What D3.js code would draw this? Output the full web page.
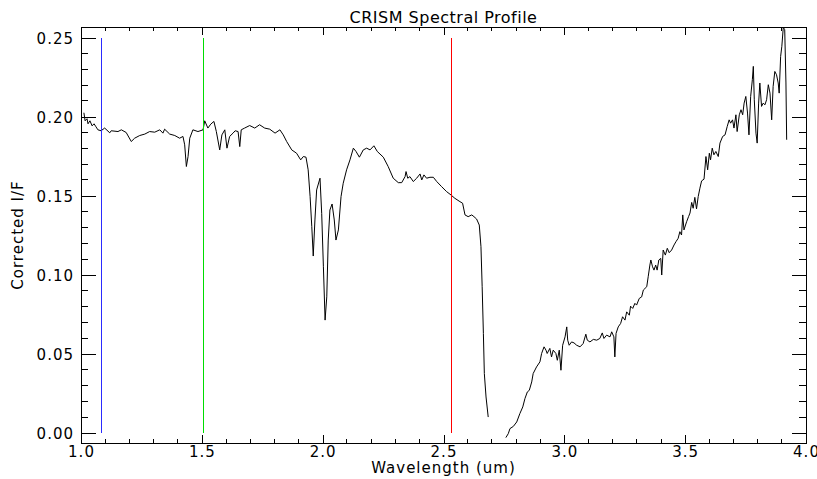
<!DOCTYPE html>
<html>
<head>
<meta charset="utf-8">
<script src="https://cdn.jsdelivr.net/npm/d3@7"></script>
<style>
  html, body { margin: 0; padding: 0; background: #fff; }
  svg text { font-family: "DejaVu Sans", sans-serif; fill: #000; }
</style>
</head>
<body>
<div id="chart"></div>
<script>
// spectrum samples (null = no data)
const wavelength = [
  1.012,1.017,1.025,1.029,1.037,1.046,1.054,1.062,1.070,1.083,
  1.098,1.119,1.125,1.153,1.167,1.187,1.208,1.222,1.243,1.264,
  1.284,1.305,1.326,1.339,1.346,1.367,1.388,1.408,1.422,1.429,
  1.436,1.443,1.450,1.463,1.484,1.505,1.512,1.525,1.537,1.550,
  1.560,1.574,1.583,1.595,1.604,1.615,1.629,1.638,1.650,1.657,
  1.663,1.677,1.698,1.719,1.739,1.760,1.781,1.803,1.823,1.837,
  1.851,1.872,1.892,1.909,1.920,1.931,1.940,1.948,1.955,1.961,
  1.968,1.975,1.989,1.996,2.003,2.010,2.017,2.023,2.030,2.039,
  2.048,2.055,2.065,2.076,2.085,2.099,2.113,2.127,2.138,2.152,
  2.168,2.182,2.196,2.212,2.226,2.251,2.271,2.292,2.313,2.327,
  2.341,2.345,2.352,2.361,2.375,2.389,2.403,2.410,2.419,2.430,
  2.444,2.458,2.472,2.492,2.513,2.531,2.547,2.568,2.579,2.589,
  2.602,2.617,2.626,2.637,2.648,2.655,2.660,2.665,2.669,2.676,
  2.685,
  2.720,
  2.758,2.768,2.775,2.789,2.803,2.816,2.828,2.837,2.847,2.855,
  2.865,2.871,2.885,2.899,2.906,2.916,2.924,2.929,2.940,2.947,
  2.954,2.965,2.971,2.979,2.986,2.993,3.003,3.010,3.014,3.020,
  3.030,3.040,3.051,3.065,3.078,3.089,3.095,3.106,3.120,3.134,
  3.147,3.157,3.164,3.175,3.189,3.196,3.205,3.209,3.214,3.223,
  3.233,3.241,3.251,3.258,3.269,3.274,3.283,3.292,3.299,3.310,
  3.320,3.327,3.341,3.347,3.354,3.358,3.365,3.371,3.378,3.384,
  3.391,3.399,3.403,3.409,3.418,3.426,3.434,3.444,3.454,3.462,
  3.471,3.478,3.485,3.490,3.495,3.506,3.514,3.520,3.527,3.533,
  3.540,3.547,3.554,3.561,3.568,3.578,3.586,3.593,3.600,3.605,
  3.612,3.619,3.627,3.637,3.644,3.655,3.665,3.674,3.682,3.688,
  3.696,3.702,3.710,3.715,3.724,3.731,3.738,3.744,3.751,3.758,
  3.764,3.771,3.778,3.782,3.786,3.793,3.798,3.804,3.809,3.816,
  3.823,3.830,3.837,3.844,3.851,3.858,3.864,3.871,3.878,3.885,
  3.889,3.895,3.900,3.906,3.912,3.917,3.920
]
const correctedIF = [
  0.2025,0.1974,0.1987,0.1955,0.1974,0.1942,0.1955,0.1936,0.1917,0.1911,
  0.1928,0.1898,0.1911,0.1906,0.1917,0.1900,0.1843,0.1864,0.1881,0.1890,
  0.1906,0.1902,0.1917,0.1896,0.1921,0.1890,0.1881,0.1864,0.1875,0.1822,
  0.1685,0.1748,0.1864,0.1917,0.1906,0.1917,0.1974,0.1928,0.1953,0.1970,
  0.1906,0.1790,0.1885,0.1917,0.1801,0.1875,0.1896,0.1911,0.1906,0.1811,
  0.1917,0.1928,0.1944,0.1928,0.1949,0.1928,0.1921,0.1896,0.1917,0.1885,
  0.1843,0.1790,0.1769,0.1727,0.1748,0.1744,0.1664,0.1495,0.1305,0.1119,
  0.1347,0.1537,0.1611,0.1389,0.1051,0.0714,0.0861,0.1220,0.1410,0.1448,
  0.1347,0.1220,0.1284,0.1495,0.1579,0.1664,0.1727,0.1801,0.1780,0.1744,
  0.1790,0.1801,0.1790,0.1816,0.1780,0.1744,0.1685,0.1611,0.1583,0.1583,
  0.1621,0.1653,0.1611,0.1621,0.1590,0.1611,0.1638,0.1600,0.1632,0.1611,
  0.1617,0.1617,0.1590,0.1558,0.1526,0.1505,0.1484,0.1463,0.1453,0.1379,
  0.1368,0.1379,0.1368,0.1353,0.1315,0.1178,0.0925,0.0630,0.0376,0.0228,
  0.0101,
  null,
  -0.0029,-0.0004,0.0028,0.0042,0.0070,0.0123,0.0165,0.0218,0.0260,0.0270,
  0.0323,0.0376,0.0418,0.0450,0.0503,0.0545,0.0524,0.0503,0.0535,0.0481,
  0.0524,0.0503,0.0460,0.0524,0.0397,0.0555,0.0608,0.0671,0.0587,0.0555,
  0.0576,0.0570,0.0555,0.0545,0.0566,0.0625,0.0587,0.0576,0.0592,0.0587,
  0.0598,0.0633,0.0598,0.0619,0.0608,0.0640,0.0608,0.0481,0.0630,0.0671,
  0.0693,0.0735,0.0714,0.0766,0.0745,0.0802,0.0788,0.0820,0.0809,0.0851,
  0.0861,0.0904,0.0925,0.0988,0.1062,0.1094,0.1051,0.1030,0.1062,0.1030,
  0.1094,0.1104,0.0999,0.1157,0.1125,0.1168,0.1140,0.1157,0.1189,0.1210,
  0.1231,0.1273,0.1252,0.1379,0.1284,0.1336,0.1368,0.1391,0.1458,0.1421,
  0.1490,0.1417,0.1495,0.1548,0.1594,0.1605,0.1748,0.1664,0.1769,0.1727,
  0.1801,0.1759,0.1780,0.1748,0.1833,0.1875,0.1885,0.1938,0.1980,0.1959,
  0.1980,0.1928,0.2012,0.1906,0.2012,0.2044,0.2012,0.2086,0.2128,0.2023,
  0.1885,0.2128,0.2234,0.2318,0.2107,0.1896,0.1833,0.2086,0.2213,0.2065,
  0.2086,0.2075,0.2107,0.2202,0.2149,0.1980,0.2191,0.2286,0.2265,0.2213,
  0.2149,0.2381,0.2445,0.2565,0.2550,0.2213,0.1854
]

// band markers (blue / green / red)
const markerWave = [1.083, 1.505, 2.533]
const markerColor = ['#2b2bff', '#00dd00', '#ff0000']
const markerRange = [0.0, 0.25]

const xTicks = [1.0, 1.5, 2.0, 2.5, 3.0, 3.5, 4.0]
const yTicks = [0.00, 0.05, 0.10, 0.15, 0.20, 0.25]
const xDomain = [1.0, 4.0]
const yDomain = [-0.0063, 0.2567]

const width = 817
const height = 479
const margin = { top: 27, right: 11, bottom: 36, left: 81 }
const x0 = margin.left, x1 = width - margin.right
const y0 = height - margin.bottom, y1 = margin.top

const x = d3.scaleLinear().domain(xDomain).range([x0, x1])
const y = d3.scaleLinear().domain(yDomain).range([y0, y1])

const xMinor = d3.range(10, 41).map(i => i / 10).filter(v => !xTicks.some(t => Math.abs(t - v) < 1e-9))
const yMinor = d3.range(0, 26).map(i => i / 100).filter(v => !yTicks.some(t => Math.abs(t - v) < 1e-9))

// IDL-ish tick lengths
const xMajLen = 8.3, xMinLen = 4.2
const yMajLen = 14.5, yMinLen = 7.3

let svg = d3.select('#chart').append('svg')
    .attr('width', width)
    .attr('height', height)
    .style('display', 'block')

svg.append('rect').attr('width', width).attr('height', height).attr('fill', '#fff')

svg.append('defs').append('clipPath').attr('id', 'plotclip')
    .append('rect')
    .attr('x', x0).attr('y', y1)
    .attr('width', x1 - x0).attr('height', y0 - y1)

// spectrum
const pts = wavelength.map((w, i) => ({ w: w, v: correctedIF[i] }))
const spectrumLine = d3.line()
    .defined(d => d.v !== null)
    .x(d => x(d.w))
    .y(d => y(d.v))

svg.append('path')
    .datum(pts)
    .attr('clip-path', 'url(#plotclip)')
    .attr('d', spectrumLine)
    .attr('fill', 'none')
    .attr('stroke', '#000')
    .attr('stroke-width', 1)
    .attr('stroke-linejoin', 'miter')

// vertical band markers, drawn as thin filled rects so the colour stays solid
svg.append('g')
    .selectAll('rect')
    .data(markerWave)
    .enter()
    .append('rect')
    .attr('x', d => Math.round(x(d)))
    .attr('width', 1)
    .attr('y', y(markerRange[1]))
    .attr('height', y(markerRange[0]) - y(markerRange[1]))
    .style('fill', (d, i) => markerColor[i])
    .attr('shape-rendering', 'crispEdges')

// axes: major ticks via d3.axis, minor ticks added on top
function styleAxis(g) {
    g.select('.domain').attr('stroke', '#000').attr('shape-rendering', 'crispEdges')
    g.selectAll('.tick line').attr('stroke', '#000').attr('shape-rendering', 'crispEdges')
    g.selectAll('.tick text').style('font-size', '15px').style('letter-spacing', '1px')
}

let gBottom = svg.append('g')
    .attr('transform', `translate(0,${y0})`)
    .call(d3.axisBottom(x).tickValues(xTicks).tickSizeInner(-xMajLen).tickSizeOuter(0)
        .tickPadding(4).tickFormat(d3.format('.1f')))
gBottom.call(styleAxis)
gBottom.selectAll('.tick text').attr('y', 14).attr('dy', 0)

let gTop = svg.append('g')
    .attr('transform', `translate(0,${y1})`)
    .call(d3.axisTop(x).tickValues(xTicks).tickSizeInner(-xMajLen).tickSizeOuter(0).tickFormat(''))
gTop.call(styleAxis)

let gLeft = svg.append('g')
    .attr('transform', `translate(${x0},0)`)
    .call(d3.axisLeft(y).tickValues(yTicks).tickSizeInner(-yMajLen).tickSizeOuter(0)
        .tickPadding(7).tickFormat(d3.format('.2f')))
gLeft.call(styleAxis)
gLeft.selectAll('.tick text').attr('x', -7).attr('dy', '0.36em')

let gRight = svg.append('g')
    .attr('transform', `translate(${x1},0)`)
    .call(d3.axisRight(y).tickValues(yTicks).tickSizeInner(-yMajLen).tickSizeOuter(0).tickFormat(''))
gRight.call(styleAxis)

// minor ticks
let minor = svg.append('g').attr('stroke', '#000').attr('shape-rendering', 'crispEdges')
minor.selectAll('line.xb').data(xMinor).enter().append('line')
    .attr('x1', d => x(d)).attr('x2', d => x(d))
    .attr('y1', y0).attr('y2', y0 - xMinLen)
minor.selectAll('line.xt').data(xMinor).enter().append('line')
    .attr('x1', d => x(d)).attr('x2', d => x(d))
    .attr('y1', y1).attr('y2', y1 + xMinLen)
minor.selectAll('line.yl').data(yMinor).enter().append('line')
    .attr('y1', d => y(d)).attr('y2', d => y(d))
    .attr('x1', x0).attr('x2', x0 + yMinLen)
minor.selectAll('line.yr').data(yMinor).enter().append('line')
    .attr('y1', d => y(d)).attr('y2', d => y(d))
    .attr('x1', x1).attr('x2', x1 - yMinLen)

// titles
svg.append('text')
    .attr('x', (x0 + x1) / 2)
    .attr('y', 23)
    .attr('text-anchor', 'middle')
    .style('font-size', '16px')
    .style('letter-spacing', '0.5px')
    .text('CRISM Spectral Profile')

svg.append('text')
    .attr('x', (x0 + x1) / 2)
    .attr('y', 473)
    .attr('text-anchor', 'middle')
    .style('font-size', '15px')
    .style('letter-spacing', '1px')
    .text('Wavelength (um)')

svg.append('text')
    .attr('transform', `translate(23,${(y0 + y1) / 2}) rotate(-90)`)
    .attr('text-anchor', 'middle')
    .style('font-size', '15px')
    .style('letter-spacing', '1px')
    .text('Corrected I/F')
</script>
</body>
</html>
